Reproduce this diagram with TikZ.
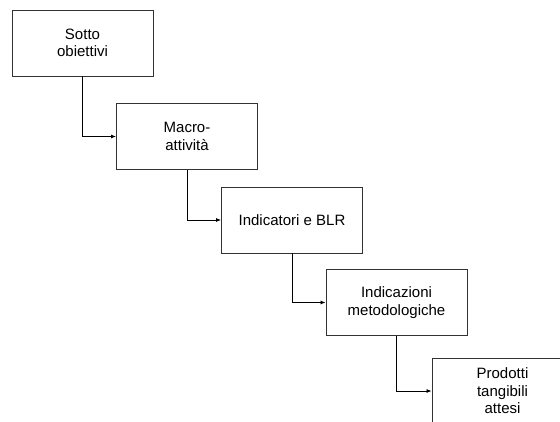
\documentclass[tikz,border=0pt]{standalone}
\usepackage{fontspec}
\setmainfont{Liberation Sans}
\usetikzlibrary{arrows.meta}
\tikzset{
x=1pt, y=-1pt, % pixel-like units, y grows downwards
stepbox/.style={draw=black!80, line width=0.9pt, minimum width=141pt, minimum height=66pt,
  align=center, inner sep=0pt, font=\fontsize{15}{17.5}\selectfont}, % the boxes
link/.style={draw=black, line width=0.8pt, -{Latex[length=5pt,width=4pt]}}, % the elbow connectors
}
\begin{document}
\begin{tikzpicture}
\useasboundingbox (0,0) rectangle (560,421);
\clip (0,0) rectangle (560,421);
\node[stepbox] (sotto) at (82.5,43) {Sotto\\obiettivi};
\node[stepbox] (macro) at (187,136.5) {Macro-\\attività};
\node[stepbox] (indic) at (292,220) {Indicatori e BLR};
\node[stepbox] (metod) at (396.5,302.5) {Indicazioni\\metodologiche};
\node[stepbox] (prod) at (502.5,391) {Prodotti\\tangibili\\attesi};
\draw[link] (sotto.south) |- (macro.west);
\draw[link] (macro.south) |- (indic.west);
\draw[link] (indic.south) |- (metod.west);
\draw[link] (metod.south) |- (prod.west);
\end{tikzpicture}
\end{document}
